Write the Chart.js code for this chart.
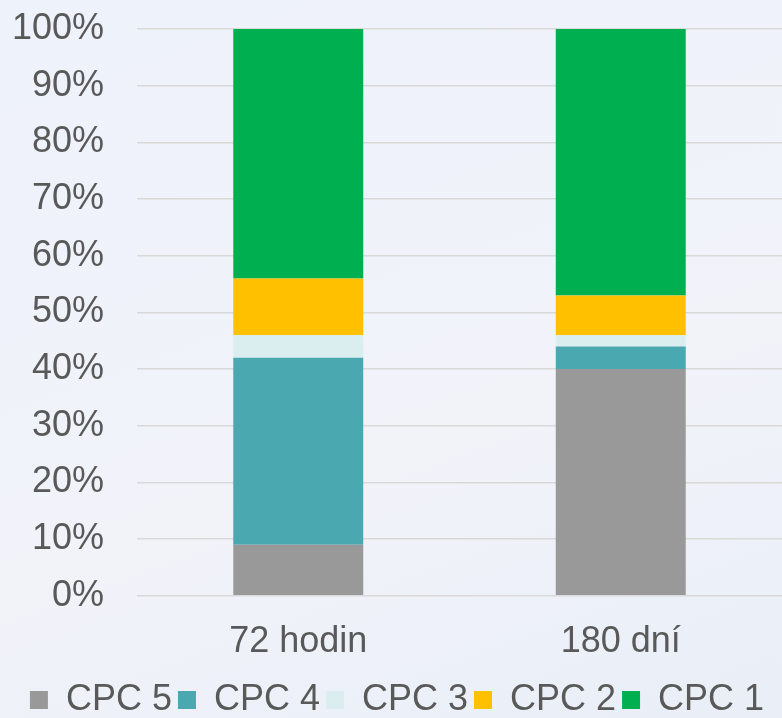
<!DOCTYPE html>
<html>
<head>
<meta charset="utf-8">
<script src="https://cdn.jsdelivr.net/npm/chart.js@4"></script>
<style>
  html, body { margin: 0; padding: 0; }
  body { width: 782px; height: 718px; background: linear-gradient(160deg, #eef2fb 0%, #f1f3f9 60%, #e9eef7 100%); }
  #wrap { position: relative; width: 782px; height: 718px; }
</style>
</head>
<body>
<div id="wrap"><canvas id="myChart"></canvas></div>
<script>
const categories = ["72 hodin", "180 dní"];
const seriesNames = ["CPC 5", "CPC 4", "CPC 3", "CPC 2", "CPC 1"];
const cpc5 = [9, 40];
const cpc4 = [33, 4];
const cpc3 = [4, 2];
const cpc2 = [10, 7];
const cpc1 = [44, 47];
const colors = ["#999999", "#4aa8b0", "#daeef0", "#ffc000", "#00b050"];

const allValues = [cpc5, cpc4, cpc3, cpc2, cpc1];
const textColor = "#595959";
const font = { family: "'Liberation Sans', Arial, sans-serif", size: 36 };

const barCanvas = document.getElementById("myChart");

const myChart1 = new Chart(barCanvas, {
	type: "bar",
	data: {
		labels: categories,
		datasets: seriesNames.map((name, i) => ({
			label: name,
			data: allValues[i],
			backgroundColor: colors[i],
			borderWidth: 0,
			barPercentage: 1,
			categoryPercentage: 0.403,
		})),
	},
	options: {
		responsive: true,
		maintainAspectRatio: false,
		animation: false,
		layout: { padding: { left: 12, right: 0, top: 29, bottom: -10 } },
		plugins: {
			legend: {
				position: "bottom",
				labels: {
					font: font,
					color: textColor,
					boxWidth: 18,
					boxHeight: 18,
					padding: 6,
				},
			},
			tooltip: { enabled: false },
		},
		scales: {
			x: {
				stacked: true,
				afterFit: (scale) => { scale.height = scale.height - 13; },
				grid: { display: false, drawTicks: false },
				border: { display: false },
				ticks: { font: font, color: textColor, padding: 25 },
			},
			y: {
				stacked: true,
				min: 0,
				max: 100,
				afterFit: (scale) => {
					scale.width = 125;
					scale.paddingTop = 0;
					scale.paddingBottom = 0;
				},
				grid: { color: "#d9d9d9", lineWidth: 1.5, drawTicks: false },
				border: { display: false },
				ticks: {
					stepSize: 10,
					font: font,
					color: textColor,
					padding: 33,
					callback: (v) => v + "%",
				},
			},
		},
	},
});
</script>
</body>
</html>
